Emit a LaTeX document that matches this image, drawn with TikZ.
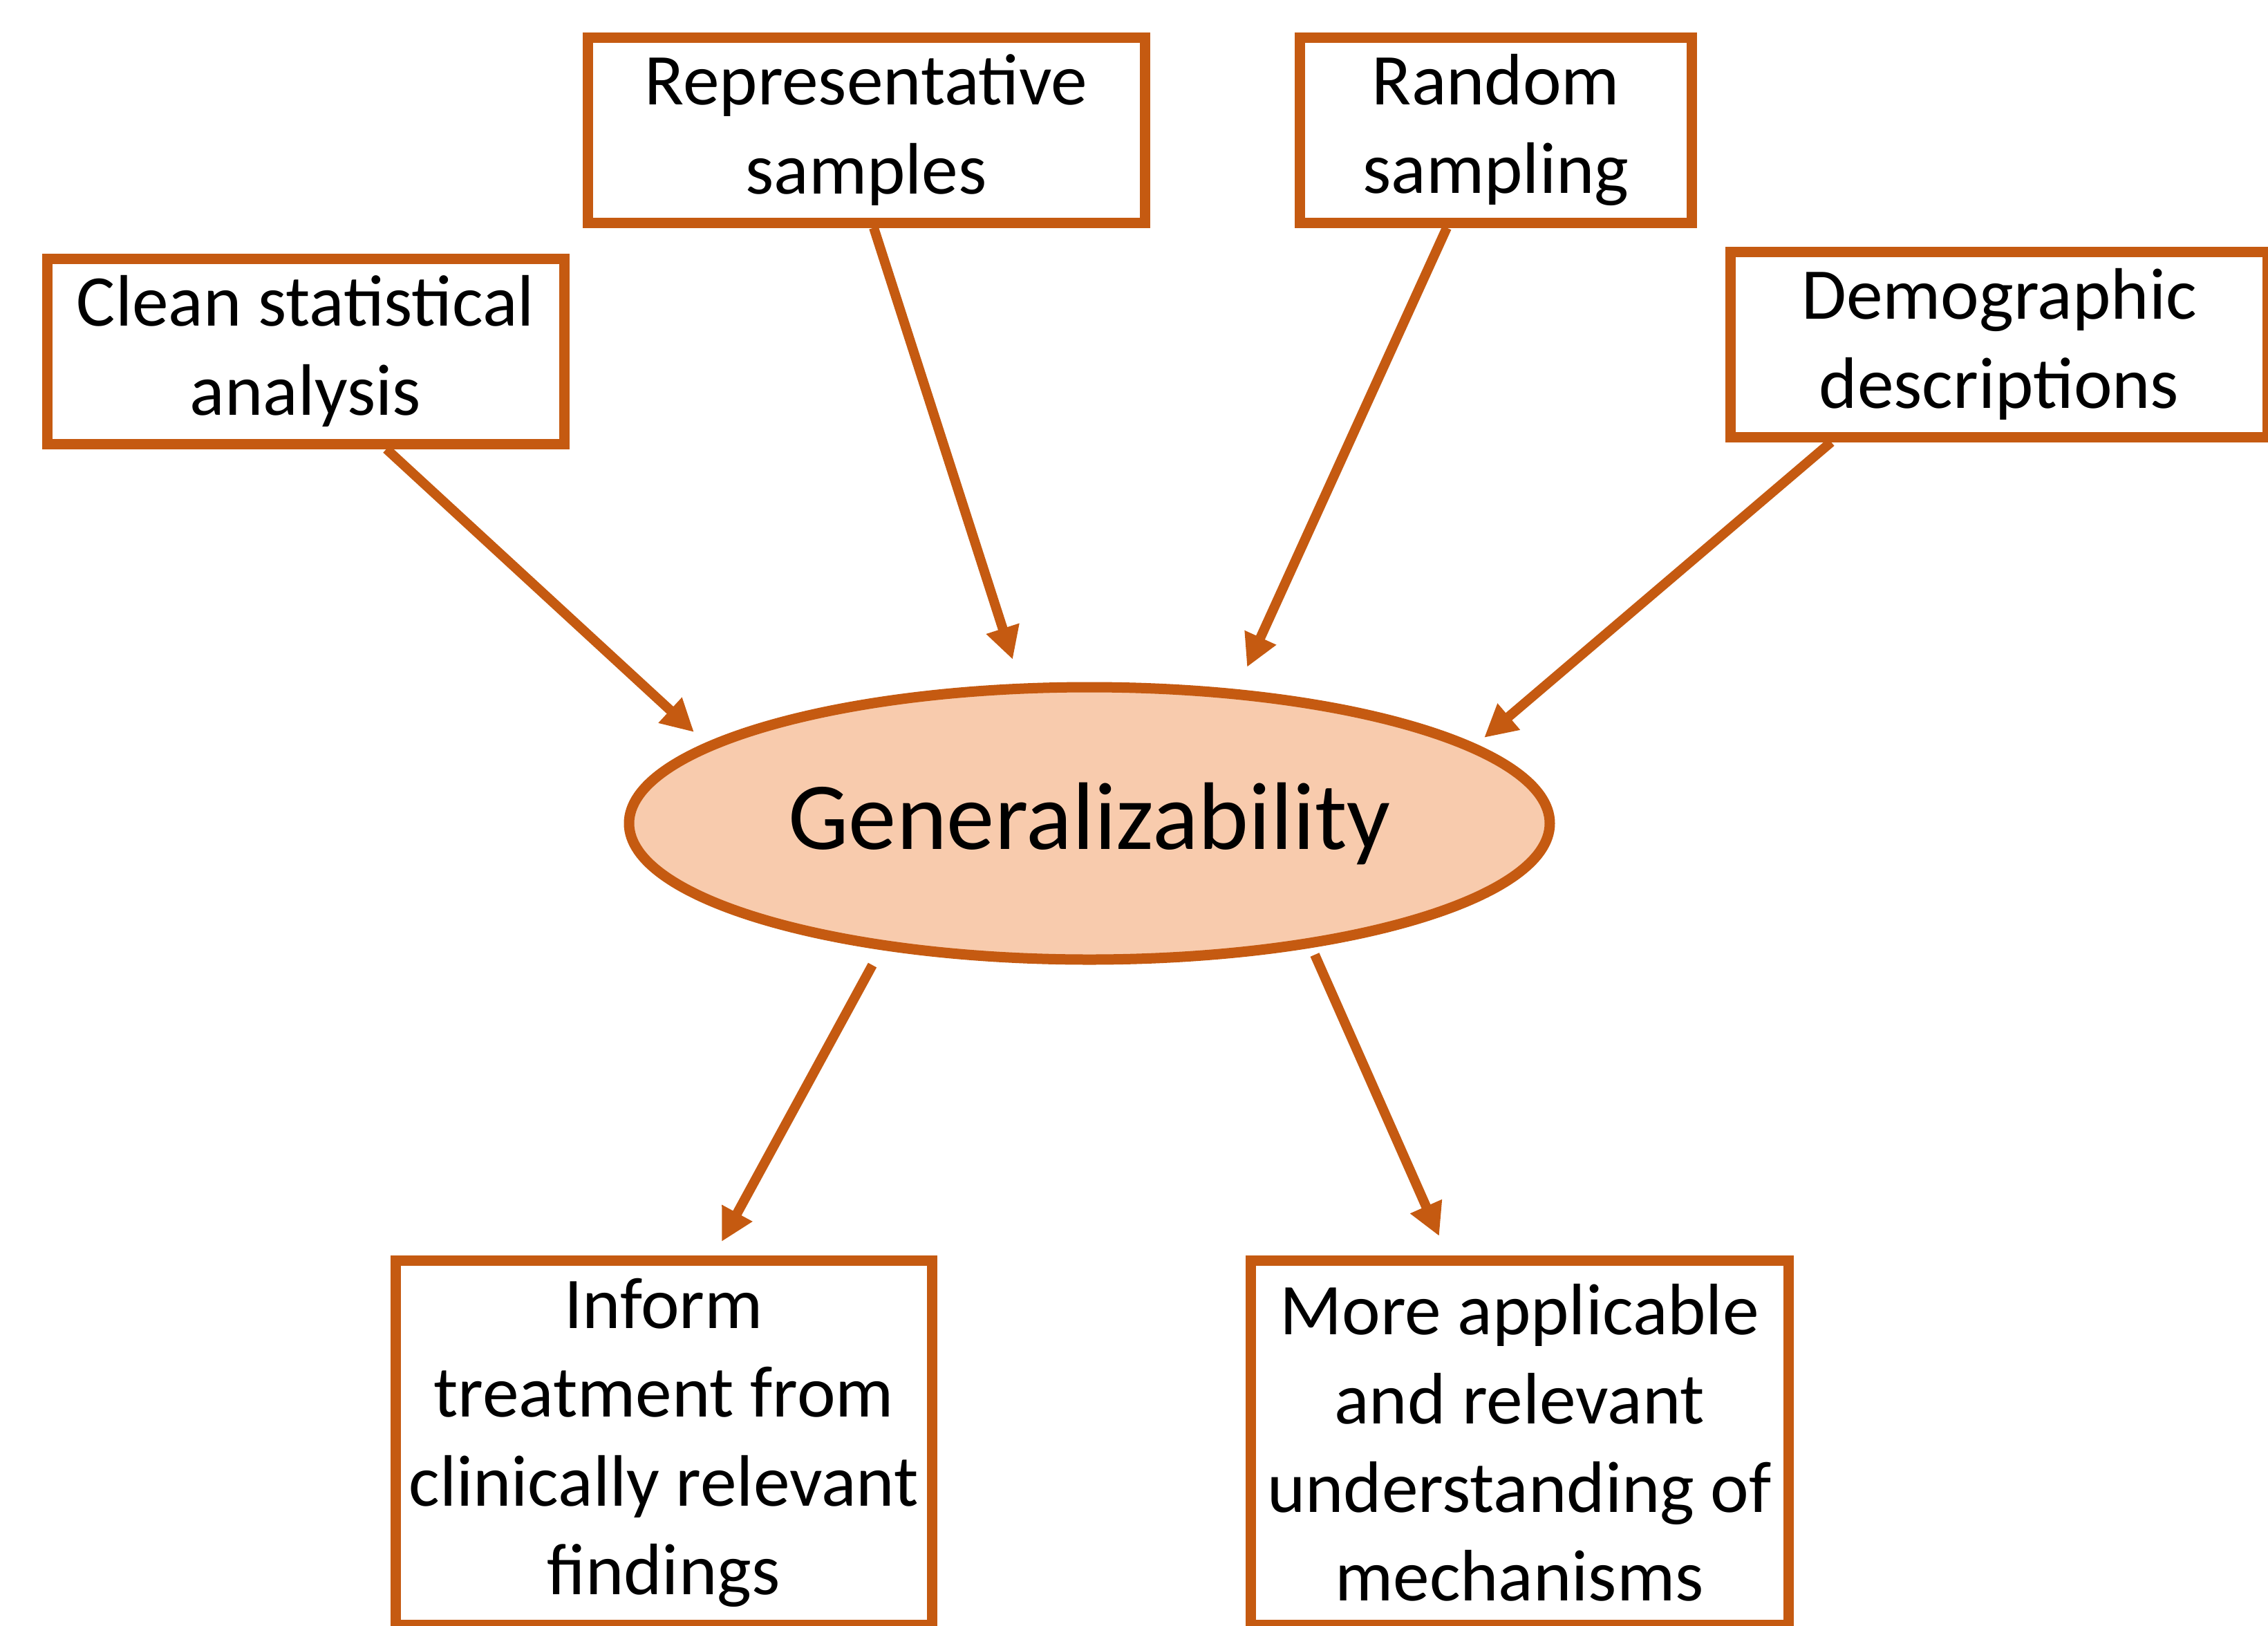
\documentclass[tikz,border=0pt]{standalone}
\usepackage{fontspec}
\setmainfont{Carlito}
\usepackage{tikz}
\usetikzlibrary{shapes.geometric, arrows.meta}

\definecolor{rust}{HTML}{C55A11}
\definecolor{peach}{HTML}{F8CBAD}

\begin{document}
\begin{tikzpicture}[
	factor/.style={draw=rust, line width=0.15cm, fill=white, align=center, inner sep=0pt,
		minimum height=2.68cm, font=\fontsize{30}{36.5}\selectfont},
	outcome/.style={factor, minimum height=5.27cm},
	centre/.style={ellipse, draw=rust, line width=0.15cm, fill=peach, inner sep=0pt,
		minimum width=13.32cm, minimum height=3.94cm, font=\fontsize{39.5}{46}\selectfont},
	link/.style={draw=rust, line width=0.14cm, -{Triangle[length=0.47cm, width=0.47cm]}}
	]

	\useasboundingbox (0,0) rectangle (32.81,-23.52);

	\node[centre] (gen) at (15.76,-11.91) {Generalizability};

	\node[factor, minimum width=7.48cm] (clean) at (4.42,-5.08) {Clean statistical\\analysis};
	\node[factor, minimum width=8.06cm] (repr) at (12.53,-1.88) {Representative\\samples};
	\node[factor, minimum width=5.67cm] (random) at (21.64,-1.88) {Random\\sampling};
	\node[factor, minimum width=7.77cm] (demo) at (28.92,-4.98) {Demographic\\descriptions};

	\node[outcome, minimum width=7.76cm] (inform) at (9.60,-20.87) {Inform\\treatment from\\clinically relevant\\findings};
	\node[outcome, minimum width=7.78cm] (mech) at (21.98,-20.87) {More applicable\\and relevant\\understanding of\\mechanisms};

	\coordinate (g1) at ([shift={(-5.72,1.32)}]gen.center);
	\coordinate (g2) at ([shift={(-1.11,2.37)}]gen.center);
	\coordinate (g3) at ([shift={(2.28,2.26)}]gen.center);
	\coordinate (g4) at ([shift={(5.71,1.24)}]gen.center);
	\coordinate (g5) at ([shift={(-3.14,-2.05)}]gen.center);
	\coordinate (g6) at ([shift={(3.26,-1.90)}]gen.center);

	\draw[link] ([xshift=1.17cm]clean.south) -- (g1);
	\draw[link] ([xshift=0.11cm]repr.south) -- (g2);
	\draw[link] ([xshift=-0.71cm]random.south) -- (g3);
	\draw[link] ([xshift=-2.43cm]demo.south) -- (g4);

	\draw[link] (g5) -- ([xshift=0.84cm,yshift=0.2cm]inform.north);
	\draw[link] (g6) -- ([xshift=-1.16cm,yshift=0.28cm]mech.north);

\end{tikzpicture}
\end{document}
